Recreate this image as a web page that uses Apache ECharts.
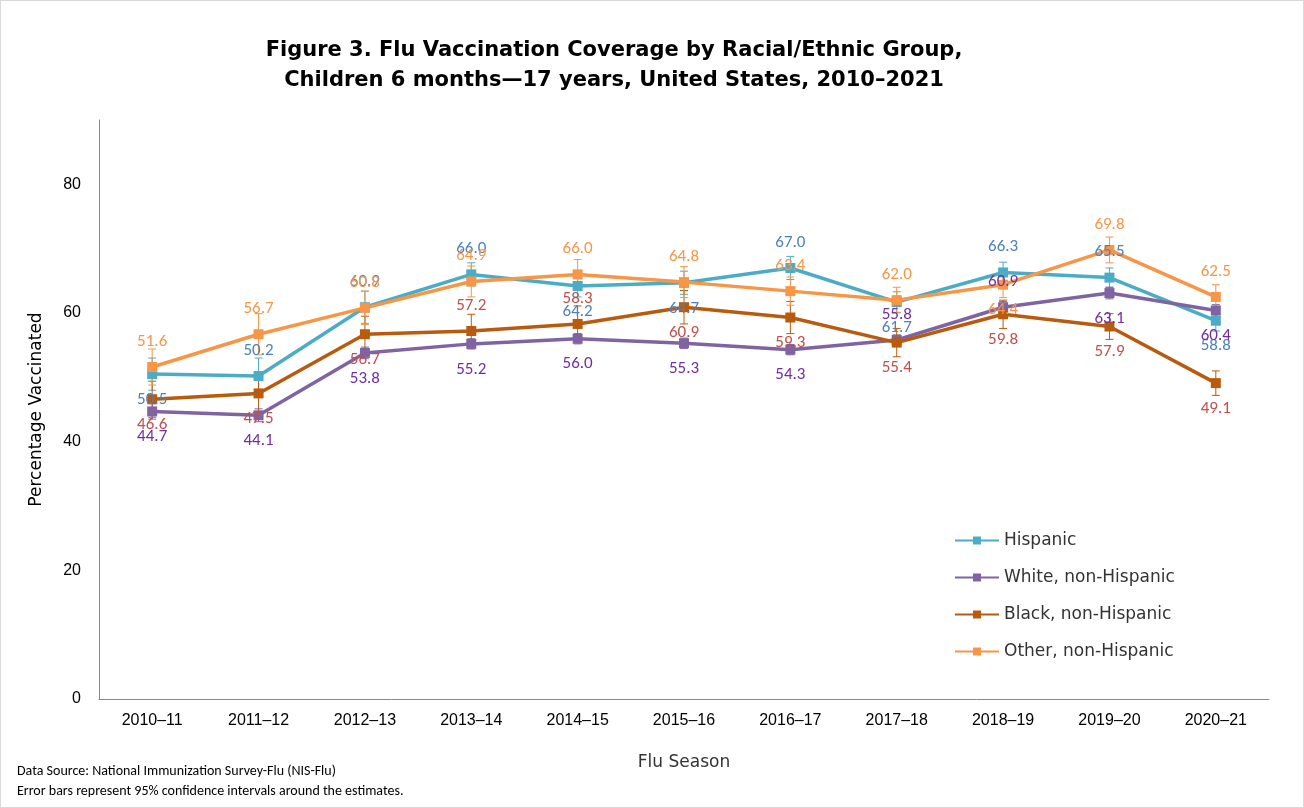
<!DOCTYPE html>
<html><head><meta charset="utf-8">
<script src="https://cdn.jsdelivr.net/npm/echarts@6/dist/echarts.min.js"></script>
<style>html,body{margin:0;padding:0;background:#fff}#c{width:1304px;height:808px;border:1px solid #d9d9d9;box-sizing:border-box}</style>
</head><body><div id="c"></div>
<script>
const categories=['2010–11','2011–12','2012–13','2013–14','2014–15','2015–16','2016–17','2017–18','2018–19','2019–20','2020–21'];
const hispanic=[50.5,50.2,60.9,66.0,64.2,64.7,67.0,61.7,66.3,65.5,58.8];
const white=[44.7,44.1,53.8,55.2,56.0,55.3,54.3,55.8,60.9,63.1,60.4];
const black=[46.6,47.5,56.7,57.2,58.3,60.9,59.3,55.4,59.8,57.9,49.1];
const other=[51.6,56.7,60.8,64.9,66.0,64.8,63.4,62.0,64.4,69.8,62.5];
const hispanicErr=[2.5,2.8,2.5,1.8,1.7,1.8,1.8,1.6,1.6,1.5,1.6];
const whiteErr=[1.2,1.0,0.9,0.8,0.8,0.8,0.8,0.8,0.9,0.9,0.9];
const blackErr=[2.8,3.0,2.8,2.6,2.8,2.6,2.5,2.2,2.2,2.0,1.9];
const otherErr=[2.8,3.2,2.6,2.4,2.3,2.4,2.2,2.0,2.0,2.0,1.9];
const hispPos=['bottom','top','top','top','bottom','bottom','top','bottom','top','top','bottom'];
const whitePos=['bottom','bottom','bottom','bottom','bottom','bottom','bottom','top','top','bottom','bottom'];
const blackPos=['bottom','bottom','bottom','top','top','bottom','bottom','bottom','bottom','bottom','bottom'];
const otherPos=['top','top','top','top','top','top','top','top','bottom','top','top'];

const defs=[
 ['Hispanic',hispanic,hispanicErr,'#4bacc6','#4f81bd',hispPos],
 ['White, non-Hispanic',white,whiteErr,'#8064a2','#7030a0',whitePos],
 ['Black, non-Hispanic',black,blackErr,'#b85b0e','#c0504d',blackPos],
 ['Other, non-Hispanic',other,otherErr,'#f79646','#f79646',otherPos]
];
const series=[];
defs.forEach(([name,vals,err,col,lcol,pos])=>{
  series.push({type:'custom',silent:true,z:1,data:vals.map((v,i)=>[i,v-err[i],v+err[i]]),
    renderItem:(p,api)=>{const lo=api.coord([api.value(0),api.value(1)]),hi=api.coord([api.value(0),api.value(2)]);
      const st={stroke:col,lineWidth:1};
      return {type:'group',children:[
        {type:'line',shape:{x1:lo[0],y1:lo[1],x2:hi[0],y2:hi[1]},style:st},
        {type:'line',shape:{x1:lo[0]-4,y1:lo[1],x2:lo[0]+4,y2:lo[1]},style:st},
        {type:'line',shape:{x1:hi[0]-4,y1:hi[1],x2:hi[0]+4,y2:hi[1]},style:st}]};}});
  series.push({name,type:'line',z:3,data:vals.map((v,i)=>({value:v,label:{position:pos[i]}})),
    symbol:'rect',symbolSize:10,lineStyle:{width:3.5,color:col},itemStyle:{color:col},
    label:{show:true,distance:12,color:lcol,fontSize:17,fontFamily:'Calibri, Carlito, "Liberation Sans", sans-serif',formatter:p=>p.value.toFixed(1)}});
});
const chart=echarts.init(document.getElementById('c'));
chart.setOption({
 animation:false,
 title:{text:'Figure 3. Flu Vaccination Coverage by Racial/Ethnic Group,\nChildren 6 months—17 years, United States, 2010–2021',left:608,top:30,textAlign:'center',
   textStyle:{fontSize:21,fontWeight:'bold',lineHeight:30,color:'#000',fontFamily:'Verdana, "DejaVu Sans", sans-serif'}},
 grid:{left:98,right:34,top:119,bottom:108},
 legend:{orient:'vertical',left:948,top:526,itemGap:20,itemWidth:44,itemHeight:10,
   data:defs.map(d=>d[0]),textStyle:{fontSize:17,color:'#333',fontFamily:'Verdana, "DejaVu Sans", sans-serif'}},
 xAxis:{type:'category',data:categories,boundaryGap:true,name:'Flu Season',nameLocation:'middle',nameGap:55,
   nameTextStyle:{fontSize:17,color:'#333',fontFamily:'Verdana, "DejaVu Sans", sans-serif'},
   axisLine:{lineStyle:{color:'#888'}},axisTick:{show:false},axisLabel:{fontSize:16,color:'#000',margin:14,fontFamily:'"Liberation Sans", sans-serif'}},
 yAxis:{type:'value',min:0,max:90,interval:20,name:'Percentage Vaccinated',nameLocation:'middle',nameGap:54,
   nameTextStyle:{fontSize:17,color:'#000',fontFamily:'Verdana, "DejaVu Sans", sans-serif'},
   axisLine:{show:true,lineStyle:{color:'#888'}},splitLine:{show:false},axisTick:{show:false},
   axisLabel:{fontSize:16,color:'#000',margin:18,showMaxLabel:false,formatter:v=>v>80?'':v}},
 graphic:[{type:'text',left:16,top:760,style:{text:'Data Source: National Immunization Survey-Flu (NIS-Flu)\nError bars represent 95% confidence intervals around the estimates.',fontSize:14,lineHeight:20,fill:'#000',fontFamily:'Calibri, Carlito, "Liberation Sans", sans-serif'}}],
 series
});
</script></body></html>
